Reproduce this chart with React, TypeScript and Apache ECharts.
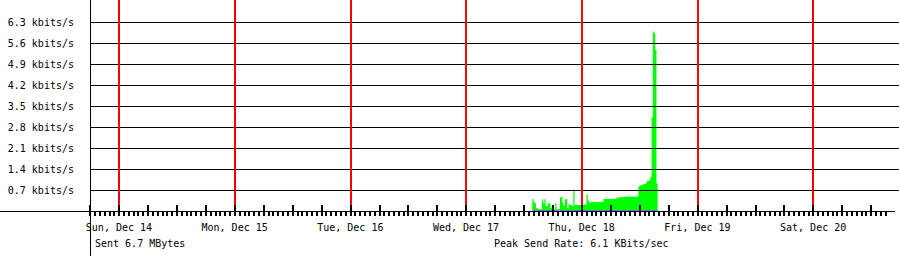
import React, { useEffect, useRef } from "react";
import * as echarts from "echarts";

// ---- data ----
const dayLabels = ["Sun, Dec 14", "Mon, Dec 15", "Tue, Dec 16", "Wed, Dec 17", "Thu, Dec 18", "Fri, Dec 19", "Sat, Dec 20"];
const dayHours = [0, 24, 48, 72, 96, 120, 144]; // hours after Sun, Dec 14 00:00
const axisStartHour = -6;
const axisEndHour = 159;
const labelEndHour = 156;
const yTickStep = 0.7;
const yMax = 7.0;

const sampleStartHour = 85.75; // Wed, Dec 17 13:45
const sampleStepHours = 0.25;
const sentValues = [
  0.40, 0.31, 0.26, 0.09, 0.09, 0.06, 0.06, 0.06, 0.39, 0.26,
  0.39, 0.17, 0.17, 0.26, 0.26, 0.09, 0.17, 0.17, 0.06, 0.26,
  0.06, 0.06, 0.06, 0.46, 0.46, 0.26, 0.17, 0.39, 0.39, 0.09,
  0.23, 0.20, 0.20, 0.17, 0.72, 0.20, 0.20, 0.20, 0.20, 0.20,
  0.20, 0.20, 0.22, 0.22, 0.22, 0.55, 0.34, 0.29, 0.29, 0.29,
  0.30, 0.29, 0.30, 0.30, 0.30, 0.29, 0.30, 0.30, 0.30, 0.40,
  0.40, 0.40, 0.40, 0.41, 0.40, 0.40, 0.41, 0.41, 0.40, 0.41,
  0.45, 0.45, 0.46, 0.46, 0.47, 0.47, 0.47, 0.48, 0.48, 0.48,
  0.47, 0.48, 0.48, 0.48, 0.48, 0.47, 0.48, 0.49,
  0.81, 0.85, 0.87, 0.87, 0.90, 0.90, 0.93, 1.00, 1.00, 1.03,
  1.14, 3.12, 5.98, 5.92, 5.37, 0.92,
];
const otherValues = [0.017, 0.017];

const sentText = "Sent 6.7 MBytes";
const peakText = "Peak Send Rate: 6.1 KBits/sec";

// ---- layout ----
const FONT = "'DejaVu Sans Mono', monospace";
const HOUR_PX = 115.7 / 24;
const LEFT = 90;
const BASE_Y = 211;

export default function App() {
  const ref = useRef<HTMLDivElement>(null);

  useEffect(() => {
    if (!ref.current) return;
    const chart = echarts.init(ref.current, undefined, { renderer: "svg", width: 900, height: 256 });

    const sentPoints: number[][] = sentValues.map((v, i) => [sampleStartHour + i * sampleStepHours, v]);
    const endHour = sampleStartHour + sentValues.length * sampleStepHours;
    sentPoints.push([endHour, sentValues[sentValues.length - 1]]);
    const otherPoints = [
      [sampleStartHour, otherValues[0]],
      [endHour, otherValues[1]],
    ];

    const dayFormatter = (v: number) => {
      const h = Math.round(v);
      if (Math.abs(v - h) > 1e-6) return "";
      const i = dayHours.indexOf(h);
      return i >= 0 ? dayLabels[i] : "";
    };

    const hiddenY = (grid: number) => ({
      gridIndex: grid,
      type: "value",
      min: 0,
      max: (yMax * BASE_Y) / (BASE_Y - 1),
      show: false,
    });

    const option: any = {
      animation: false,
      backgroundColor: "#ffffff",
      grid: [
        { left: LEFT, top: 1, width: 809, height: BASE_Y - 1 },
        { left: LEFT, top: 0, width: (axisEndHour - axisStartHour) * HOUR_PX, height: BASE_Y },
        { left: LEFT, top: 0, width: (labelEndHour - axisStartHour) * HOUR_PX, height: BASE_Y },
      ],
      xAxis: [
        { gridIndex: 0, type: "value", min: 0, max: 1, show: false },
        {
          gridIndex: 1,
          type: "value",
          min: axisStartHour,
          max: axisEndHour,
          interval: 1,
          position: "bottom",
          z: 10,
          axisLine: { show: false },
          axisTick: { show: true, inside: false, length: 5, lineStyle: { color: "#000", width: 2 } },
          axisLabel: { show: false },
          splitLine: { show: false },
        },
        {
          gridIndex: 2,
          type: "value",
          min: axisStartHour,
          max: labelEndHour,
          interval: 6,
          position: "bottom",
          z: 10,
          axisLine: { show: false },
          axisTick: { show: true, inside: true, length: 6, lineStyle: { color: "#000", width: 2 } },
          axisLabel: {
            show: true,
            margin: 11,
            fontFamily: FONT,
            fontSize: 10,
            color: "#000",
            formatter: dayFormatter,
          },
          splitLine: { show: false },
        },
      ],
      yAxis: [
        {
          gridIndex: 0,
          type: "value",
          min: 0,
          max: yMax,
          interval: yTickStep,
          z: 3,
          axisLine: { show: false },
          axisTick: { show: false },
          axisLabel: {
            margin: 16,
            fontFamily: FONT,
            fontSize: 10,
            color: "#000",
            showMinLabel: false,
            showMaxLabel: false,
            formatter: (v: number) => v.toFixed(1) + " kbits/s",
          },
          splitLine: {
            show: true,
            showMinLine: false,
            showMaxLine: false,
            lineStyle: { color: "#000", width: 1 },
          },
        },
        hiddenY(1),
        hiddenY(2),
      ],
      series: [
        {
          type: "line",
          xAxisIndex: 1,
          yAxisIndex: 1,
          data: sentPoints,
          step: "end",
          symbol: "none",
          z: 1,
          lineStyle: { width: 0, color: "#00ff00" },
          areaStyle: { color: "#00ff00", opacity: 1 },
        },
        {
          type: "line",
          xAxisIndex: 1,
          yAxisIndex: 1,
          data: otherPoints,
          symbol: "none",
          z: 5,
          lineStyle: { width: 1, color: "#7070ee" },
          markLine: {
            silent: true,
            symbol: ["none", "none"],
            label: { show: false },
            lineStyle: { color: "#ff0000", width: 2, type: "solid" },
            data: dayHours.map((h) => ({ xAxis: h })),
          },
        },
      ],
      graphic: [
        {
          type: "line",
          z: 50,
          shape: { x1: LEFT + 0.5, y1: 0, x2: LEFT + 0.5, y2: 256 },
          style: { stroke: "#000", lineWidth: 1 },
        },
        {
          type: "line",
          z: 50,
          shape: { x1: 0, y1: BASE_Y + 0.5, x2: 895, y2: BASE_Y + 0.5 },
          style: { stroke: "#000", lineWidth: 1 },
        },
        {
          type: "text",
          z: 50,
          x: 95,
          y: 243,
          style: { text: sentText, fontFamily: FONT, fontSize: 10, fill: "#000", verticalAlign: "middle", align: "left" },
        },
        {
          type: "text",
          z: 50,
          x: 494,
          y: 243,
          style: { text: peakText, fontFamily: FONT, fontSize: 10, fill: "#000", verticalAlign: "middle", align: "left" },
        },
      ],
    };

    chart.setOption(option);
    return () => chart.dispose();
  }, []);

  return <div ref={ref} style={{ position: "fixed", left: 0, top: 0, width: 900, height: 256 }} />;
}
